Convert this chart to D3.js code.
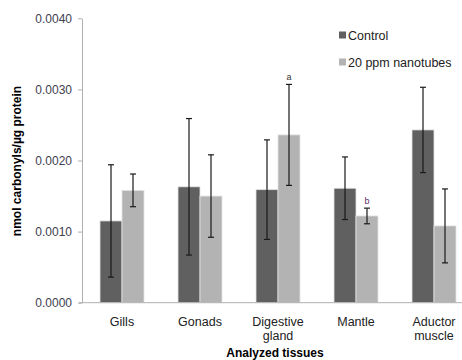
<!DOCTYPE html>
<html>
<head>
  <meta charset="utf-8">
  <script src="https://d3js.org/d3.v7.min.js"></script>
  <style>
    body { margin: 0; background: #fff; }
    text { font-family: "Liberation Sans", Arial, sans-serif; }
  </style>
</head>
<body>
<script>
  var width = 462;
  var height = 360;

  // data
  var tissues = [["Gills"], ["Gonads"], ["Digestive", "gland"], ["Mantle"], ["Aductor", "muscle"]];
  var series = ["Control", "20 ppm nanotubes"];
  var control = [0.00115, 0.00163, 0.00159, 0.00161, 0.00243];
  var controlErr = [0.00079, 0.00096, 0.00070, 0.00044, 0.00060];
  var nano = [0.00158, 0.00150, 0.00236, 0.00122, 0.00108];
  var nanoErr = [0.00023, 0.00058, 0.00071, 0.00011, 0.00052];
  var nanoMarks = ["", "", "a", "b", ""];
  var yTicks = [0, 0.001, 0.002, 0.003, 0.004];

  var colors = ["#606060", "#b3b3b3"];

  var svg = d3.select("body")
    .append("svg")
    .attr("width", width)
    .attr("height", height);

  var x = d3.scaleBand()
    .domain(d3.range(tissues.length))
    .range([83, 473])
    .paddingInner(0.436)
    .paddingOuter(0.218);

  var x1 = d3.scaleBand()
    .domain([0, 1])
    .range([0, x.bandwidth()]);

  var y = d3.scaleLinear()
    .domain([0, 0.004])
    .range([302.7, 18.3]);

  // y axis
  var yAxis = svg.append("g")
    .attr("transform", "translate(82,0)")
    .call(d3.axisLeft(y).tickValues(yTicks).tickFormat(d3.format(".4f")).tickSize(4).tickSizeOuter(0));
  yAxis.select(".domain").attr("stroke", "#b0b0b0");
  yAxis.selectAll(".tick line").attr("stroke", "#b0b0b0");
  yAxis.selectAll(".tick text")
    .attr("fill", "#404050")
    .style("font-size", "12px")
    .attr("x", -10);

  // bars
  var groups = svg.selectAll("g.grp")
    .data(tissues.map(function(t, i) {
      return [
        { v: control[i], e: controlErr[i], s: 0, m: "" },
        { v: nano[i], e: nanoErr[i], s: 1, m: nanoMarks[i] }
      ];
    }))
    .enter()
    .append("g")
    .attr("class", "grp")
    .attr("transform", function(d, i) { return "translate(" + x(i) + ",0)"; });

  groups.selectAll("rect")
    .data(function(d) { return d; })
    .enter()
    .append("rect")
    .attr("x", function(d) { return x1(d.s); })
    .attr("width", x1.bandwidth())
    .attr("y", function(d) { return y(d.v); })
    .attr("height", function(d) { return y(0) - y(d.v); })
    .attr("fill", function(d) { return colors[d.s]; })
    .attr("stroke", "#e4e4e4")
    .attr("stroke-width", 0.8);

  // error bars
  var eb = groups.selectAll("g.err")
    .data(function(d) { return d; })
    .enter()
    .append("g")
    .attr("class", "err")
    .attr("transform", function(d) { return "translate(" + (x1(d.s) + x1.bandwidth() / 2) + ",0)"; });

  eb.append("line")
    .attr("y1", function(d) { return y(d.v + d.e); })
    .attr("y2", function(d) { return y(d.v - d.e); })
    .attr("stroke", "#1a1a1a").attr("stroke-width", 1.2);
  eb.append("line")
    .attr("x1", -3).attr("x2", 3)
    .attr("y1", function(d) { return y(d.v + d.e); })
    .attr("y2", function(d) { return y(d.v + d.e); })
    .attr("stroke", "#1a1a1a").attr("stroke-width", 1.2);
  eb.append("line")
    .attr("x1", -3).attr("x2", 3)
    .attr("y1", function(d) { return y(d.v - d.e); })
    .attr("y2", function(d) { return y(d.v - d.e); })
    .attr("stroke", "#1a1a1a").attr("stroke-width", 1.2);

  eb.filter(function(d) { return d.m; })
    .append("text")
    .attr("text-anchor", "middle")
    .attr("y", function(d) { return y(d.v + d.e) - 4; })
    .attr("fill", function(d) { return d.m == "b" ? "#5a2a6a" : "#333"; })
    .style("font-size", "9px")
    .text(function(d) { return d.m; });

  // x axis line
  svg.append("line")
    .attr("x1", 79).attr("x2", width)
    .attr("y1", y(0)).attr("y2", y(0))
    .attr("stroke", "#b0b0b0");

  // category labels
  var cat = svg.selectAll("text.cat")
    .data(tissues)
    .enter()
    .append("text")
    .attr("class", "cat")
    .attr("text-anchor", "middle")
    .attr("x", function(d, i) { return x(i) + x.bandwidth() / 2; })
    .attr("y", 326)
    .attr("fill", "#222")
    .style("font-size", "12.5px");
  cat.selectAll("tspan")
    .data(function(d) { return d; })
    .enter()
    .append("tspan")
    .attr("x", function() { return d3.select(this.parentNode).attr("x"); })
    .attr("dy", function(d, i) { return i == 0 ? 0 : 14; })
    .text(function(d) { return d; });

  // axis titles
  svg.append("text")
    .attr("x", 275).attr("y", 357)
    .attr("text-anchor", "middle")
    .style("font-size", "12px").style("font-weight", "bold")
    .text("Analyzed tissues");

  svg.append("text")
    .attr("transform", "translate(21,161) rotate(-90)")
    .attr("text-anchor", "middle")
    .style("font-size", "12px").style("font-weight", "bold")
    .text("nmol carbonyls/µg protein");

  // legend
  var leg = svg.selectAll("g.leg")
    .data(series)
    .enter()
    .append("g")
    .attr("class", "leg")
    .attr("transform", function(d, i) { return "translate(339," + (35 + i * 27) + ")"; });
  leg.append("rect")
    .attr("x", 0).attr("y", -3.5).attr("width", 7).attr("height", 7)
    .attr("fill", function(d, i) { return colors[i]; });
  leg.append("text")
    .attr("x", 9).attr("y", 4.5)
    .attr("fill", "#222")
    .style("font-size", "12.5px")
    .text(function(d) { return d; });
</script>
</body>
</html>
